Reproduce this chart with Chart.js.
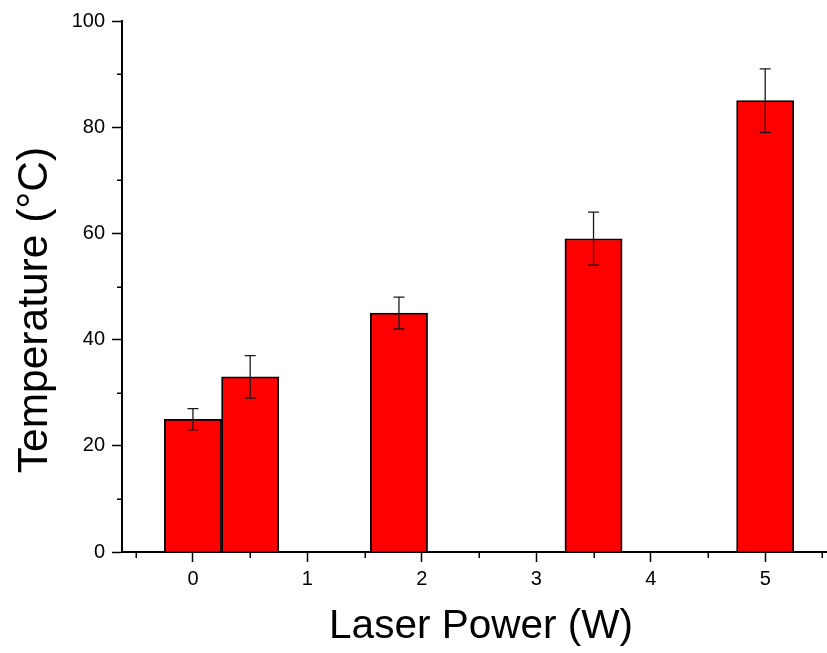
<!DOCTYPE html>
<html>
<head>
<meta charset="utf-8">
<script src="https://cdn.jsdelivr.net/npm/chart.js@4/dist/chart.umd.min.js"></script>
<style>
  html, body { margin: 0; padding: 0; background: #fff; }
  canvas { display: block; }
</style>
</head>
<body>
<canvas id="bar-chart" width="827" height="653"></canvas>
<script>

  // data
  var powers = [ 0, 0.5, 1.8, 3.5, 5 ];
  var temps = [ 25, 33, 45, 59, 85 ];
  var errors = [ 2, 4, 3, 5, 6 ];

  var xTicks = [ 0, 1, 2, 3, 4, 5 ];
  var xMinorTicks = [ -0.5, 0.5, 1.5, 2.5, 3.5, 4.5, 5.5 ];
  var yTicks = [ 0, 20, 40, 60, 80, 100 ];
  var yMinorTicks = [ 10, 30, 50, 70, 90 ];

  var xTitle = 'Laser Power (W)';
  var yTitle = 'Temperature (°C)';

  var FONT = "'Liberation Sans', Arial, sans-serif";

  var points = powers.map( function( p, i ) {
    return { x: p, y: temps[ i ] };
  } );

  // error bars drawn through the scales
  var errorBars = {
    id: 'errorBars',
    afterDatasetsDraw: function( chart ) {
      var ctx = chart.ctx;
      var xs = chart.scales.x;
      var ys = chart.scales.y;
      ctx.save();
      ctx.strokeStyle = '#1a1a1a';
      ctx.lineWidth = 1.3;
      powers.forEach( function( p, i ) {
        var px = xs.getPixelForValue( p );
        var top = ys.getPixelForValue( temps[ i ] + errors[ i ] );
        var bot = ys.getPixelForValue( temps[ i ] - errors[ i ] );
        ctx.beginPath();
        ctx.moveTo( px, top );
        ctx.lineTo( px, bot );
        ctx.moveTo( px - 5.5, top );
        ctx.lineTo( px + 5.5, top );
        ctx.moveTo( px - 5.5, bot );
        ctx.lineTo( px + 5.5, bot );
        ctx.stroke();
      } );
      ctx.restore();
    }
  };

  // minor ticks outside the axes, plus the two axis titles
  var axisExtras = {
    id: 'axisExtras',
    afterDraw: function( chart ) {
      var ctx = chart.ctx;
      var xs = chart.scales.x;
      var ys = chart.scales.y;
      var area = chart.chartArea;
      ctx.save();
      ctx.strokeStyle = '#000';
      ctx.lineWidth = 1.5;
      ctx.beginPath();
      xMinorTicks.forEach( function( v ) {
        var px = Math.round( xs.getPixelForValue( v ) ) + 0.25;
        if ( px < area.left || px > area.right ) return;
        ctx.moveTo( px, area.bottom );
        ctx.lineTo( px, area.bottom + 6 );
      } );
      yMinorTicks.forEach( function( v ) {
        var py = Math.round( ys.getPixelForValue( v ) ) + 0.25;
        ctx.moveTo( area.left, py );
        ctx.lineTo( area.left - 5, py );
      } );
      ctx.stroke();

      ctx.fillStyle = '#000';
      ctx.textAlign = 'center';
      ctx.textBaseline = 'alphabetic';

      ctx.font = '40.5px ' + FONT;
      ctx.fillText( xTitle, ( area.left + area.right ) / 2 + 6.5, area.bottom + 86 );

      ctx.translate( 46.5, ( area.top + area.bottom ) / 2 + 23.5 );
      ctx.rotate( -Math.PI / 2 );
      ctx.font = '42.5px ' + FONT;
      ctx.fillText( yTitle, 0, 0 );
      ctx.restore();
    }
  };

  var config = {
    type: 'bar',
    data: {
      datasets: [
        {
          data: points,
          backgroundColor: '#ff0000',
          borderColor: '#000000',
          borderWidth: 1.8,
          barPercentage: 1,
          categoryPercentage: 1
        }
      ]
    },
    options: {
      responsive: false,
      animation: false,
      layout: { padding: { top: 21, left: 0, right: 0, bottom: 0 } },
      plugins: {
        legend: { display: false },
        tooltip: { enabled: false }
      },
      scales: {
        x: {
          type: 'linear',
          min: -0.62,
          max: 5.54,
          offset: false,
          afterFit: function( scale ) { scale.height = 101; },
          afterBuildTicks: function( scale ) {
            scale.ticks = xTicks.map( function( v ) { return { value: v }; } );
          },
          border: { display: true, color: '#000', width: 2 },
          grid: {
            offset: false,
            drawOnChartArea: false,
            drawTicks: true,
            tickLength: 10,
            tickColor: '#000',
            tickWidth: 1.5
          },
          ticks: {
            color: '#000',
            padding: 5,
            maxRotation: 0,
            autoSkip: false,
            font: { family: FONT, size: 20 },
            callback: function( v ) { return v; }
          },
          title: { display: false }
        },
        y: {
          min: 0,
          max: 100,
          afterFit: function( scale ) { scale.width = 122; },
          afterBuildTicks: function( scale ) {
            scale.ticks = yTicks.map( function( v ) { return { value: v }; } );
          },
          border: { display: true, color: '#000', width: 2 },
          grid: {
            drawOnChartArea: false,
            drawTicks: true,
            tickLength: 10,
            tickColor: '#000',
            tickWidth: 1.5
          },
          ticks: {
            color: '#000',
            padding: 7,
            autoSkip: false,
            font: { family: FONT, size: 20 }
          },
          title: { display: false }
        }
      }
    },
    plugins: [ errorBars, axisExtras ]
  };

  new Chart( document.getElementById( 'bar-chart' ), config );

</script>
</body>
</html>
